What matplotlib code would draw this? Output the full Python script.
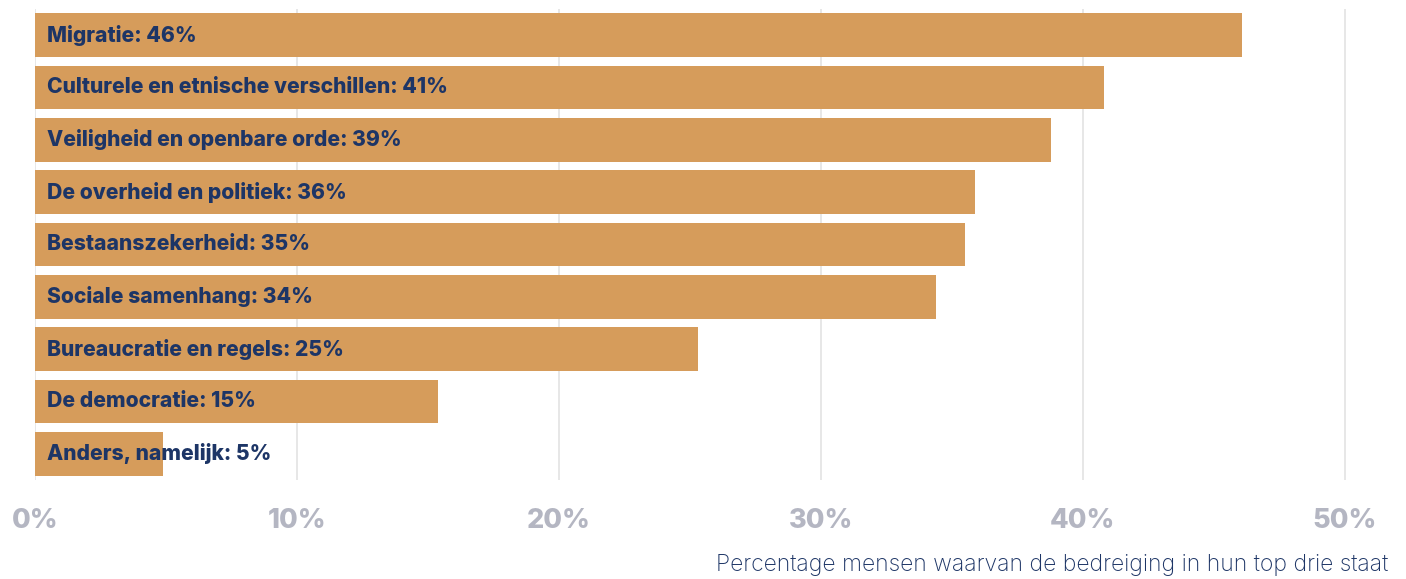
import matplotlib.pyplot as plt

# data
categories = ['Migratie', 'Culturele en etnische verschillen', 'Veiligheid en openbare orde',
              'De overheid en politiek', 'Bestaanszekerheid', 'Sociale samenhang',
              'Bureaucratie en regels', 'De democratie', 'Anders, namelijk']
values = [46.1, 40.8, 38.8, 35.9, 35.5, 34.4, 25.3, 15.4, 4.9]
shown = [46, 41, 39, 36, 35, 34, 25, 15, 5]
xticks = [0, 10, 20, 30, 40, 50]

bar_color = '#d69c5b'
navy = '#1d3566'
grey = '#b4b6c2'

fig = plt.figure(figsize=(14.06, 5.79), dpi=100)
ax = fig.add_axes([35 / 1406, 1 - 480 / 579, 1362 / 1406, 471 / 579])

ypos = list(range(len(categories)))
ax.barh(ypos, values, height=0.84, color=bar_color, zorder=2)
for y, cat, v in zip(ypos, categories, shown):
    ax.text(0.45, y, f'{cat}: {v}%', va='center', ha='left', fontsize=15.2,
            fontweight='heavy', color=navy, family='Inter', zorder=3)

ax.set_xlim(0, 52)
ax.set_ylim(len(categories) - 0.5, -0.5)
ax.set_yticks([])
ax.set_xticks(xticks)
ax.set_xticklabels([f'{t}%' for t in xticks], fontsize=19.5, fontweight='heavy',
                   color=grey, family='Inter')
ax.tick_params(axis='x', length=0, pad=20)
ax.grid(axis='x', color='#e3e3e3', lw=1.2, zorder=0)
for s in ax.spines.values():
    s.set_visible(False)

fig.text(1388 / 1406, 1 - 565 / 579, 'Percentage mensen waarvan de bedreiging in hun top drie staat',
         ha='right', va='center', fontsize=16.5, color=navy, family='Inter', fontweight='light')

fig.savefig('out.png', dpi=100)
